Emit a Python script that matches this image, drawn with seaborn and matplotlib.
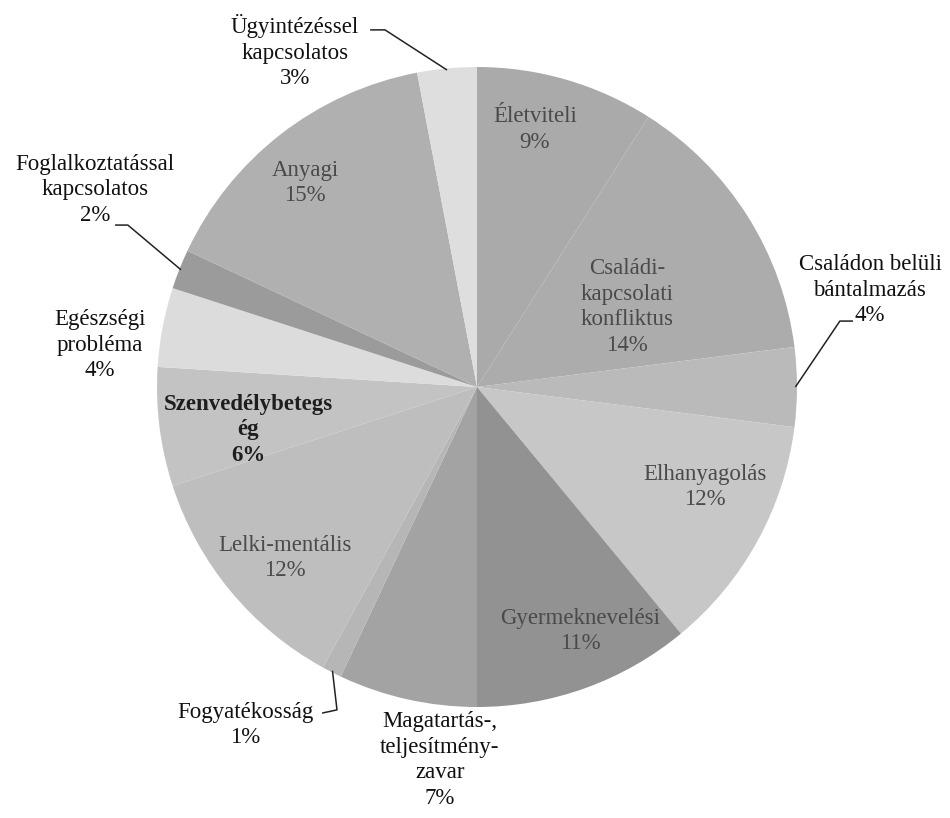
import numpy as np
import matplotlib
matplotlib.use("Agg")
import matplotlib.pyplot as plt
import seaborn as sns

# Categories of problems, in clockwise order from 12 o'clock
categories = [
    "Életviteli",
    "Családi-\nkapcsolati\nkonfliktus",
    "Családon belüli\nbántalmazás",
    "Elhanyagolás",
    "Gyermeknevelési",
    "Magatartás-,\nteljesítmény-\nzavar",
    "Fogyatékosság",
    "Lelki-mentális",
    "Szenvedélybetegs\nég",
    "Egészségi\nprobléma",
    "Foglalkoztatással\nkapcsolatos",
    "Anyagi",
    "Ügyintézéssel\nkapcsolatos",
]
shares = [9, 14, 4, 12, 11, 7, 1, 12, 6, 4, 2, 15, 3]

# Grey shades for the wedges
shades = ["#aaaaaa", "#acacac", "#bababa", "#c7c7c7", "#929292", "#a3a3a3",
          "#b6b6b6", "#bebebe", "#c3c3c3", "#dcdcdc", "#9b9b9b", "#b0b0b0",
          "#dedede"]

# Label placement (data units, pie radius = 1) and whether the label sits outside
label_pos = [
    (0.181, 0.805), (0.469, 0.25), (1.228, 0.303), (0.713, -0.3125),
    (0.322, -0.7625), (-0.116, -1.166), (-0.725, -1.056), (-0.60, -0.534),
    (-0.716, -0.134), (-1.178, 0.131), (-1.194, 0.616), (-0.5375, 0.6375),
    (-0.569, 1.047),
]
outside = [False, False, True, False, False, True, True, False, False,
           True, True, False, True]
# Leader lines: (start of horizontal tick, knee) for labels that need one
leaders = {
    2: [(1.175, 0.206), (1.134, 0.206)],
    6: [(-0.484, -1.019), (-0.4375, -1.009)],
    10: [(-1.131, 0.506), (-1.091, 0.506)],
    12: [(-0.334, 1.116), (-0.2875, 1.116)],
}

sns.set_theme(style="white")
plt.rcParams["font.family"] = ["Liberation Serif", "DejaVu Serif"]

W, H = 950, 818
fig = plt.figure(figsize=(W / 100, H / 100), dpi=100)
cx, cy, R = 477, 387, 320
ax = fig.add_axes([(cx - R) / W, (H - cy - R) / H, 2 * R / W, 2 * R / H])

wedges, _ = ax.pie(shares, colors=shades, startangle=90, counterclock=False,
                   radius=1.0, wedgeprops=dict(linewidth=0))
ax.set_xlim(-1, 1)
ax.set_ylim(-1, 1)
ax.set_aspect("equal")
ax.axis("off")

total = float(sum(shares))
cum = np.cumsum([0] + shares)
for i, (name, val) in enumerate(zip(categories, shares)):
    x, y = label_pos[i]
    if outside[i]:
        color, weight = "#111111", "normal"
    elif i == 8:
        color, weight = "#1e1e1e", "bold"
    else:
        color, weight = "#4a4a4a", "normal"
    ax.text(x, y, f"{name}\n{val}%", ha="center", va="center", fontsize=16.5,
            color=color, fontweight=weight, linespacing=1.28, clip_on=False)
    if i in leaders:
        mid = (cum[i] + val / 2) / total * 2 * np.pi
        ex, ey = np.sin(mid), np.cos(mid)
        pts = leaders[i] + [(ex * 0.995, ey * 0.995)]
        ax.plot([p[0] for p in pts], [p[1] for p in pts], color="#222222",
                lw=1.1, clip_on=False, solid_capstyle="butt")

fig.savefig("out.png", dpi=100, facecolor="white")
